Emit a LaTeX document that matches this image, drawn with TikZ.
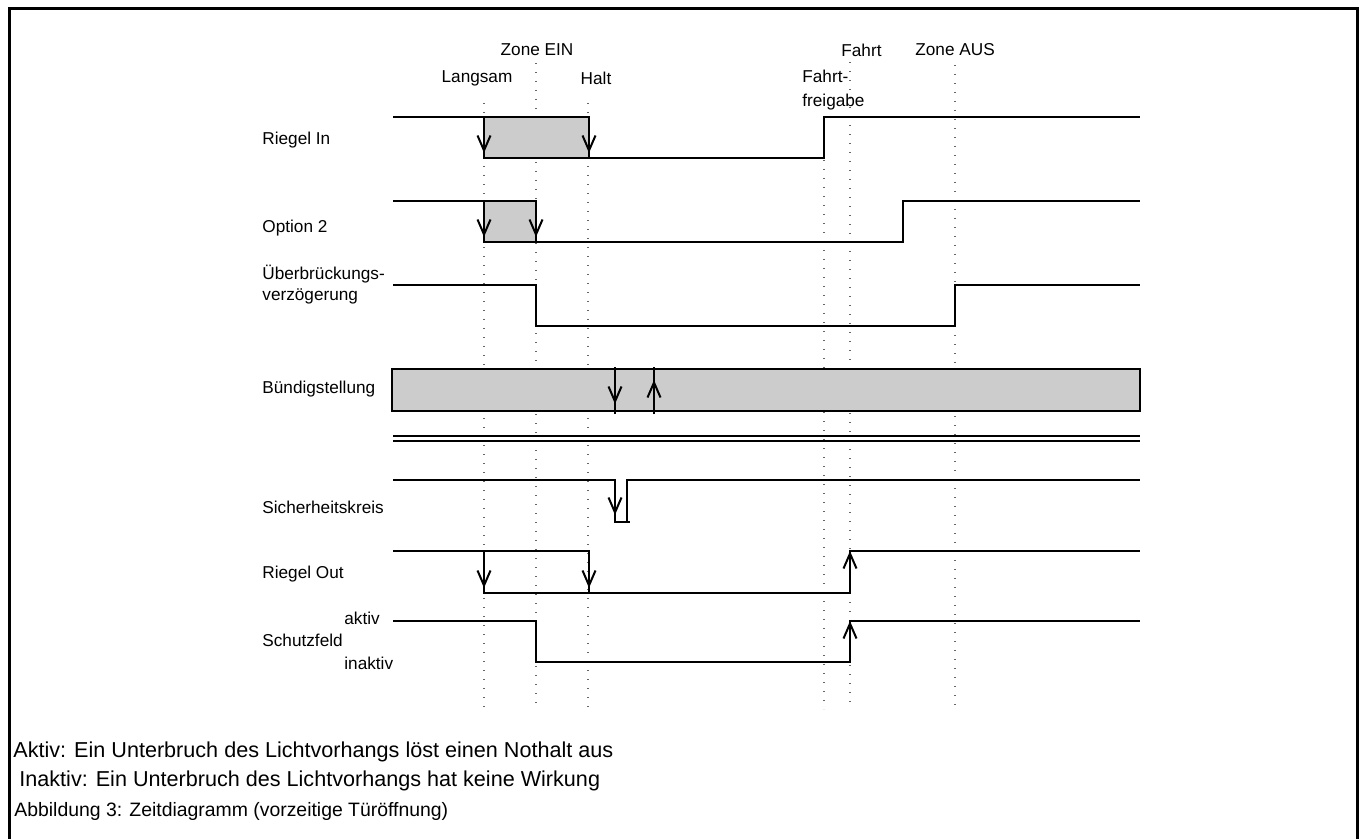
\documentclass[tikz,border=0pt]{standalone}
\usepackage{fontspec}
\setmainfont{Liberation Sans}
\usetikzlibrary{arrows.meta}

\begin{document}
\begin{tikzpicture}[x=.5pt,y=-.5pt,
  every node/.style={inner sep=0pt,font=\fontsize{8.6}{12}\selectfont},
  sig/.style={line width=1pt},
  tline/.style={black!60,line width=.6pt,dash pattern=on .6pt off 3.9pt},
  tipdn/.style={line width=1pt,-{Straight Barb[length=7.5pt,width=6.5pt]}},
  boxfill/.style={fill=black!20},
  note/.style={anchor=west,font=\fontsize{10.8}{12}\selectfont}]
  \useasboundingbox (0,0) rectangle (1363,839);
  % frame
  \draw[line width=1.5pt] (9,839)--(9,9)--(1357,9)--(1357,839);

  % time marks
  \node (tzein) at (537,50) {Zone EIN};
  \node (tlangsam) at (477,78) {Langsam};
  \node (thalt) at (596,78) {Halt};
  \node[anchor=west,align=left] (tfreigabe) at (802,90) {Fahrt-\\freigabe};
  \node[anchor=west] (tfahrt) at (841,50) {Fahrt};
  \node[anchor=west] (tzaus) at (915,50) {Zone AUS};
  \draw[tline] (484,103)--(484,709);
  \draw[tline] (536,63)--(536,709);
  \draw[tline] (588,103)--(588,709);
  \draw[tline] (824,160)--(824,709);
  \draw[tline] (850,62)--(850,709);
  \draw[tline] (955,65)--(955,709);

  % Riegel In
  \node[anchor=west] (sriegelin) at (262,140) {Riegel In};
  \fill[boxfill] (484,117) rectangle (589,158);
  \draw[sig] (393,117)--(484,117)--(484,158)--(824,158)--(824,117)--(1140,117);
  \draw[sig] (484,117)--(589,117)--(589,158);
  \draw[tipdn] (484,117)--(484,153);
  \draw[tipdn] (589,117)--(589,153);

  % Option 2
  \node[anchor=west] (soption) at (262,228) {Option 2};
  \fill[boxfill] (484,201) rectangle (536,242);
  \draw[sig] (393,201)--(484,201)--(484,242)--(903,242)--(903,201)--(1140,201);
  \draw[sig] (484,201)--(536,201)--(536,242);
  \draw[tipdn] (484,201)--(484,237);
  \draw[tipdn] (536,201)--(536,237);

  % Ueberbrueckung
  \node[anchor=west,align=left,font=\fontsize{8.6}{10.5}\selectfont] (sueber) at (262,285) {Überbrückungs-\\verzögerung};
  \draw[sig] (393,285)--(536,285)--(536,326)--(955,326)--(955,285)--(1140,285);

  % Buendigstellung
  \node[anchor=west] (sbuendig) at (262,389) {Bündigstellung};
  \filldraw[boxfill,sig] (392,369) rectangle (1140,411);
  \draw[sig] (615,367)--(615,414);
  \draw[tipdn] (615,367)--(615,404);
  \draw[sig] (654,414)--(654,367);
  \draw[tipdn] (654,414)--(654,380);

  \draw[sig] (393,436)--(1140,436);
  \draw[sig] (393,441)--(1140,441);

  % Sicherheitskreis
  \node[anchor=west] (ssicher) at (262,507) {Sicherheitskreis};
  \draw[sig] (393,480)--(615,480)--(615,522)--(630,522);
  \draw[sig] (627,522)--(627,480)--(1140,480);
  \draw[tipdn] (615,480)--(615,515);

  % Riegel Out
  \node[anchor=west] (sriegelout) at (262,574) {Riegel Out};
  \draw[sig] (393,551)--(484,551)--(484,593)--(850,593)--(850,551)--(1140,551);
  \draw[sig] (484,551)--(589,551)--(589,593);
  \draw[tipdn] (484,551)--(484,588);
  \draw[tipdn] (589,551)--(589,588);
  \draw[tipdn] (850,593)--(850,551);

  % Schutzfeld
  \node[anchor=west] (sschutz) at (262,640) {Schutzfeld};
  \node[anchor=west] (saktiv) at (344,618) {aktiv};
  \node[anchor=west] (sinaktiv) at (344,663) {inaktiv};
  \draw[sig] (393,621)--(536,621)--(536,662)--(850,662)--(850,621)--(1140,621);
  \draw[tipdn] (850,662)--(850,621);

  % notes
  \node[note] (naktiv) at (13,752) {Aktiv: Ein Unterbruch des Lichtvorhangs löst einen Nothalt aus};
  \node[note] (ninaktiv) at (13,781) {\ Inaktiv: Ein Unterbruch des Lichtvorhangs hat keine Wirkung};
  \node[note,font=\fontsize{9.7}{12}\selectfont] (ncaption) at (14,811) {Abbildung 3: Zeitdiagramm (vorzeitige Türöffnung)};
\end{tikzpicture}
\end{document}
